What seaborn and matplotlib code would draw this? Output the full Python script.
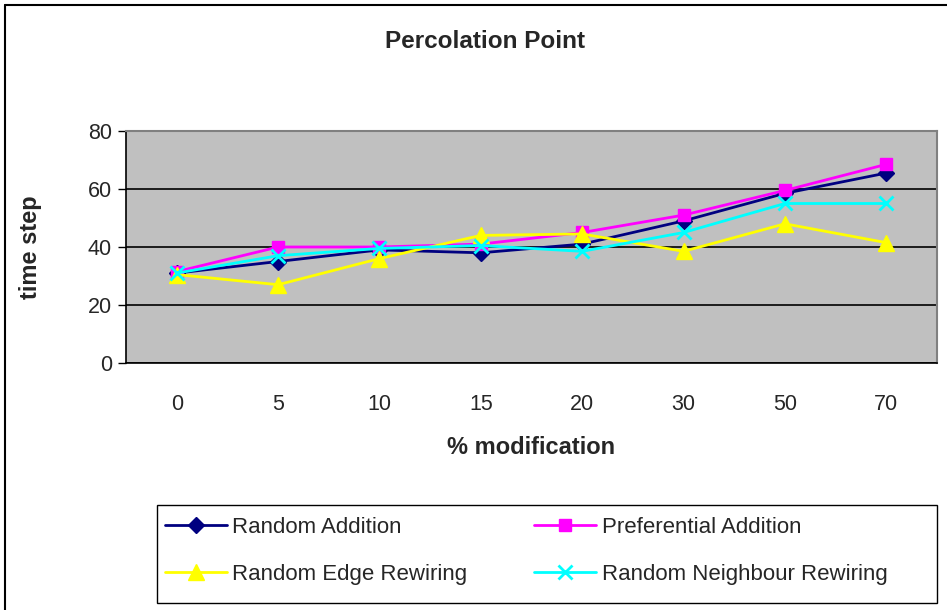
import matplotlib
matplotlib.use("Agg")
import matplotlib.pyplot as plt
from matplotlib.lines import Line2D
from matplotlib.patches import Rectangle
import seaborn as sns
import pandas as pd
import numpy as np

categories = ["0", "5", "10", "15", "20", "30", "50", "70"]
series_names = ["Random Addition", "Preferential Addition",
                "Random Edge Rewiring", "Random Neighbour Rewiring"]
random_addition = [31, 35, 39, 38, 41, 49, 58.5, 65.5]
preferential_addition = [31.5, 40, 40, 41, 45, 51, 59.5, 68.5]
random_edge_rewiring = [30.5, 27, 36, 44, 44.5, 38.5, 48, 41.5]
random_neighbour_rewiring = [31, 37, 39.5, 40.5, 38.5, 45, 55, 55]
y_ticks = [0, 20, 40, 60, 80]

values = [random_addition, preferential_addition,
          random_edge_rewiring, random_neighbour_rewiring]
colors = ["#000080", "#FF00FF", "#FFFF00", "#00FFFF"]
markers = ["D", "s", "^", "x"]
msizes = [8, 9, 11, 10]

sns.set_theme(style="white")
plt.rcParams['font.family'] = ['Liberation Sans', 'DejaVu Sans']

fig = plt.figure(figsize=(9.47, 6.10), dpi=100)
ax = fig.add_axes([126/947, 1-363/610, (937-126)/947, (363-131)/610])
ax.set_facecolor("#C0C0C0")

pos = np.arange(len(categories))
for name, vals, c, m, ms in zip(series_names, values, colors, markers, msizes):
    df = pd.DataFrame({"pos": pos, "value": vals})
    sns.lineplot(data=df, x="pos", y="value", ax=ax, color=c, marker=m,
                 markersize=ms, linewidth=2, markeredgecolor=c,
                 markeredgewidth=2 if m == "x" else 1, legend=False, zorder=3)

ax.set_xlim(-0.5, len(categories) - 0.5)
ax.set_ylim(0, 80)
ax.set_yticks(y_ticks)
ax.set_yticklabels([str(t) for t in y_ticks], fontsize=15.5)
ax.yaxis.grid(True, color="black", linewidth=1.2)
ax.set_axisbelow(True)
ax.set_xticks(pos)
ax.set_xticklabels(categories, fontsize=15.5)
ax.set_xticks(np.arange(-0.5, len(categories)), minor=True)
ax.tick_params(axis="x", which="major", length=0, pad=22)
ax.tick_params(axis="x", which="minor", length=6, width=1, color="black", direction="out")
ax.tick_params(axis="y", which="major", length=6, width=1, color="black", direction="out", left=True, pad=4)
ax.set_xlabel("")
ax.set_ylabel("")
for s in ["left", "bottom"]:
    ax.spines[s].set_color("black")
    ax.spines[s].set_linewidth(1.2)
for s in ["top", "right"]:
    ax.spines[s].set_color("#808080")
    ax.spines[s].set_linewidth(1.5)

fig.text(0.512, 1-42/610, "Percolation Point", ha="center", va="center",
         fontsize=17.5, fontweight="bold")
fig.text(30/947, 1-247/610, "time step", ha="center", va="center",
         rotation=90, fontsize=17, fontweight="bold")
fig.text(531/947, 1-448/610, "% modification", ha="center", va="center",
         fontsize=17, fontweight="bold")

# legend frame
fig.add_artist(Rectangle((157/947, 1-603/610), (937-157)/947, (603-505)/610,
                         transform=fig.transFigure, facecolor="white",
                         edgecolor="black", linewidth=1, zorder=1))

handles = [Line2D([0], [0], color=c, marker=m, markersize=ms, linewidth=2,
                  markeredgecolor=c, markeredgewidth=2 if m == "x" else 1)
           for c, m, ms in zip(colors, markers, msizes)]
order = [0, 2, 1, 3]
leg = fig.legend([handles[i] for i in order], [series_names[i] for i in order], ncol=2,
                 bbox_to_anchor=(158/947, 1-551/610), loc="center left",
                 borderaxespad=0, fontsize=16, frameon=False,
                 handlelength=2.8, labelspacing=1.15, columnspacing=3.0,
                 borderpad=0.3, handletextpad=0.25)
leg.set_zorder(2)

# outer chart border
fig.add_artist(Line2D([5/947, 1], [1-5/610, 1-5/610], color="black", linewidth=1.5,
                      transform=fig.transFigure))
fig.add_artist(Line2D([5/947, 5/947], [0, 1-5/610], color="black", linewidth=1.5,
                      transform=fig.transFigure))

fig.savefig("out.png", dpi=100)
